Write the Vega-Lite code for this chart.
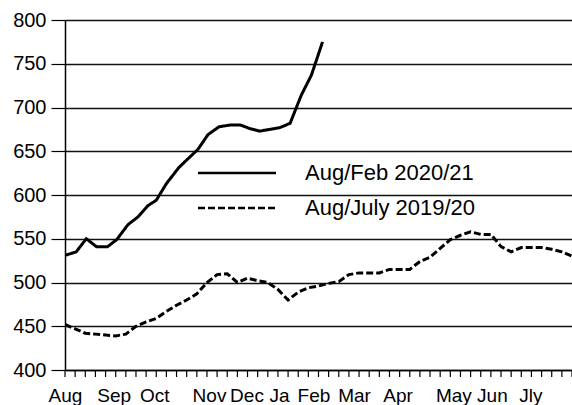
{
  "$schema": "https://vega.github.io/schema/vega-lite/v6.json",
  "width": 507,
  "height": 350,
  "autosize": {"type": "none"},
  "padding": {"left": 65, "top": 20, "right": 0, "bottom": 35},
  "title": {"text": "up to February 2021", "anchor": "start", "frame": "group", "dx": 140, "offset": -5, "baseline": "alphabetic", "fontSize": 19, "fontWeight": "normal", "font": "Liberation Sans", "color": "black"},
  "config": {"view": {"stroke": null}, "font": "Liberation Sans"},
  "resolve": {"axis": {"x": "independent", "y": "independent"}},
  "layer": [
    {
      "data": {"values": [
        {"series": "Aug/Feb 2020/21", "week": 0, "value": 531},
        {"series": "Aug/Feb 2020/21", "week": 1.1, "value": 535},
        {"series": "Aug/Feb 2020/21", "week": 2.1, "value": 550},
        {"series": "Aug/Feb 2020/21", "week": 3.1, "value": 541},
        {"series": "Aug/Feb 2020/21", "week": 4.2, "value": 541},
        {"series": "Aug/Feb 2020/21", "week": 5.1, "value": 549},
        {"series": "Aug/Feb 2020/21", "week": 6.2, "value": 566},
        {"series": "Aug/Feb 2020/21", "week": 7.2, "value": 575},
        {"series": "Aug/Feb 2020/21", "week": 8.2, "value": 588},
        {"series": "Aug/Feb 2020/21", "week": 9.0, "value": 594},
        {"series": "Aug/Feb 2020/21", "week": 10.0, "value": 613},
        {"series": "Aug/Feb 2020/21", "week": 11.2, "value": 631},
        {"series": "Aug/Feb 2020/21", "week": 12.0, "value": 640},
        {"series": "Aug/Feb 2020/21", "week": 13.1, "value": 652},
        {"series": "Aug/Feb 2020/21", "week": 14.1, "value": 669},
        {"series": "Aug/Feb 2020/21", "week": 15.2, "value": 678},
        {"series": "Aug/Feb 2020/21", "week": 16.3, "value": 680},
        {"series": "Aug/Feb 2020/21", "week": 17.3, "value": 680},
        {"series": "Aug/Feb 2020/21", "week": 18.2, "value": 676},
        {"series": "Aug/Feb 2020/21", "week": 19.2, "value": 673},
        {"series": "Aug/Feb 2020/21", "week": 20.2, "value": 675},
        {"series": "Aug/Feb 2020/21", "week": 21.2, "value": 677},
        {"series": "Aug/Feb 2020/21", "week": 22.2, "value": 682},
        {"series": "Aug/Feb 2020/21", "week": 23.3, "value": 714},
        {"series": "Aug/Feb 2020/21", "week": 24.3, "value": 737},
        {"series": "Aug/Feb 2020/21", "week": 25.4, "value": 775},
        {"series": "Aug/July 2019/20", "week": 0, "value": 452},
        {"series": "Aug/July 2019/20", "week": 1, "value": 447},
        {"series": "Aug/July 2019/20", "week": 2, "value": 442},
        {"series": "Aug/July 2019/20", "week": 3, "value": 441},
        {"series": "Aug/July 2019/20", "week": 4, "value": 440},
        {"series": "Aug/July 2019/20", "week": 5, "value": 439},
        {"series": "Aug/July 2019/20", "week": 6, "value": 441},
        {"series": "Aug/July 2019/20", "week": 7, "value": 450},
        {"series": "Aug/July 2019/20", "week": 8, "value": 455},
        {"series": "Aug/July 2019/20", "week": 9, "value": 459},
        {"series": "Aug/July 2019/20", "week": 10, "value": 467},
        {"series": "Aug/July 2019/20", "week": 11, "value": 474},
        {"series": "Aug/July 2019/20", "week": 12, "value": 480},
        {"series": "Aug/July 2019/20", "week": 13, "value": 487},
        {"series": "Aug/July 2019/20", "week": 14, "value": 500},
        {"series": "Aug/July 2019/20", "week": 15, "value": 509},
        {"series": "Aug/July 2019/20", "week": 16, "value": 510},
        {"series": "Aug/July 2019/20", "week": 17, "value": 500},
        {"series": "Aug/July 2019/20", "week": 18, "value": 505},
        {"series": "Aug/July 2019/20", "week": 19, "value": 502},
        {"series": "Aug/July 2019/20", "week": 20, "value": 500},
        {"series": "Aug/July 2019/20", "week": 21, "value": 492},
        {"series": "Aug/July 2019/20", "week": 22, "value": 480},
        {"series": "Aug/July 2019/20", "week": 23, "value": 489},
        {"series": "Aug/July 2019/20", "week": 24, "value": 494},
        {"series": "Aug/July 2019/20", "week": 25, "value": 496},
        {"series": "Aug/July 2019/20", "week": 26, "value": 499},
        {"series": "Aug/July 2019/20", "week": 27, "value": 501},
        {"series": "Aug/July 2019/20", "week": 28, "value": 509},
        {"series": "Aug/July 2019/20", "week": 29, "value": 511},
        {"series": "Aug/July 2019/20", "week": 30, "value": 511},
        {"series": "Aug/July 2019/20", "week": 31, "value": 511},
        {"series": "Aug/July 2019/20", "week": 32, "value": 515},
        {"series": "Aug/July 2019/20", "week": 33, "value": 515},
        {"series": "Aug/July 2019/20", "week": 34, "value": 515},
        {"series": "Aug/July 2019/20", "week": 35, "value": 524},
        {"series": "Aug/July 2019/20", "week": 36, "value": 529},
        {"series": "Aug/July 2019/20", "week": 37, "value": 539},
        {"series": "Aug/July 2019/20", "week": 38, "value": 549},
        {"series": "Aug/July 2019/20", "week": 39, "value": 554},
        {"series": "Aug/July 2019/20", "week": 40, "value": 558},
        {"series": "Aug/July 2019/20", "week": 41, "value": 555},
        {"series": "Aug/July 2019/20", "week": 42, "value": 555},
        {"series": "Aug/July 2019/20", "week": 43, "value": 541},
        {"series": "Aug/July 2019/20", "week": 44, "value": 535},
        {"series": "Aug/July 2019/20", "week": 45, "value": 540},
        {"series": "Aug/July 2019/20", "week": 46, "value": 540},
        {"series": "Aug/July 2019/20", "week": 47, "value": 540},
        {"series": "Aug/July 2019/20", "week": 48, "value": 538},
        {"series": "Aug/July 2019/20", "week": 49, "value": 535},
        {"series": "Aug/July 2019/20", "week": 50, "value": 530},
        {"series": "Aug/July 2019/20", "week": 51, "value": 526}
      ]},
      "mark": {"type": "line", "color": "black", "strokeWidth": 3, "clip": true},
      "encoding": {
        "x": {
          "field": "week", "type": "quantitative",
          "scale": {"domain": [0, 50], "nice": false, "zero": false},
          "axis": {
            "title": null, "grid": false, "ticks": false, "orient": "bottom",
            "domainColor": "black", "domainWidth": 1.5,
            "values": [0, 4.8, 8.8, 14.2, 17.9, 21.1, 24.5, 28.5, 32.8, 38.3, 42.1, 45.9],
            "labelExpr": "datum.value==0?'Aug':datum.value==4.8?'Sep':datum.value==8.8?'Oct':datum.value==14.2?'Nov':datum.value==17.9?'Dec':datum.value==21.1?'Ja':datum.value==24.5?'Feb':datum.value==28.5?'Mar':datum.value==32.8?'Apr':datum.value==38.3?'May':datum.value==42.1?'Jun':'Jly'",
            "labelFontSize": 19, "labelColor": "black", "labelPadding": 16,
            "labelOverlap": false, "labelFlush": false, "labelAlign": "center"
          }
        },
        "y": {
          "field": "value", "type": "quantitative",
          "scale": {"domain": [400, 800], "nice": false, "zero": false},
          "axis": {
            "title": null, "values": [400,450,500,550,600,650,700,750,800],
            "grid": true, "gridColor": "#111111", "gridWidth": 1.3,
            "domainColor": "black", "domainWidth": 1.5,
            "tickSize": 14, "tickColor": "black", "tickWidth": 1.2,
            "labelFontSize": 20, "labelColor": "black", "labelPadding": 5
          }
        },
        "strokeDash": {
          "field": "series", "type": "nominal",
          "scale": {"domain": ["Aug/Feb 2020/21", "Aug/July 2019/20"], "range": [[1, 0], [7, 3]]},
          "legend": {
            "orient": "none", "legendX": 161, "legendY": 142, "title": null, "padding": 0,
            "symbolType": "M-7.8,0H7.8", "symbolSize": 100, "symbolStrokeWidth": 2.5,
            "symbolStrokeColor": "black", "symbolFillColor": "transparent",
            "labelFontSize": 22, "labelColor": "black", "labelOffset": 57, "rowPadding": 13, "labelLimit": 300
          }
        }
      }
    },
    {
      "data": {"values": [
        {"week": 0}, {"week": 1}, {"week": 2}, {"week": 3}, {"week": 4}, {"week": 5}, {"week": 6}, {"week": 7}, {"week": 8}, {"week": 9},
        {"week": 10}, {"week": 11}, {"week": 12}, {"week": 13}, {"week": 14}, {"week": 15}, {"week": 16}, {"week": 17}, {"week": 18}, {"week": 19},
        {"week": 20}, {"week": 21}, {"week": 22}, {"week": 23}, {"week": 24}, {"week": 25}, {"week": 26}, {"week": 27}, {"week": 28}, {"week": 29},
        {"week": 30}, {"week": 31}, {"week": 32}, {"week": 33}, {"week": 34}, {"week": 35}, {"week": 36}, {"week": 37}, {"week": 38}, {"week": 39},
        {"week": 40}, {"week": 41}, {"week": 42}, {"week": 43}, {"week": 44}, {"week": 45}, {"week": 46}, {"week": 47}, {"week": 48}, {"week": 49},
        {"week": 50}
      ]},
      "mark": {"type": "rule", "color": "black", "strokeWidth": 1.2, "clip": false},
      "encoding": {
        "x": {"field": "week", "type": "quantitative", "axis": null},
        "y": {"datum": 400, "axis": null},
        "y2": {"datum": 392}
      }
    }
  ]
}
